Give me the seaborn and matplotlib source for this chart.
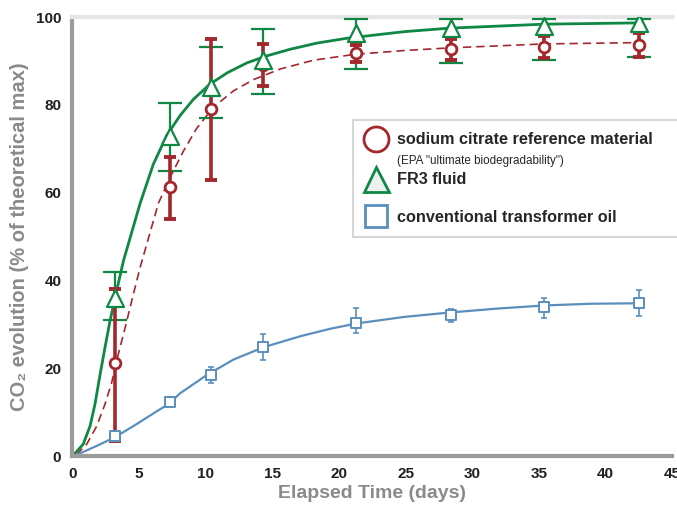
import numpy as np
import pandas as pd
import matplotlib
matplotlib.use('Agg')
import matplotlib.pyplot as plt
from matplotlib.lines import Line2D
import seaborn as sns

# measured points (days, % of theoretical max)
days = [3.2, 7.3, 10.4, 14.3, 21.3, 28.4, 35.4, 42.5]

citrate = [21.2, 61.2, 79.0, 89.0, 91.8, 92.7, 93.1, 93.7]
citrate_lo = [3.4, 54.0, 63.0, 84.3, 89.8, 90.3, 90.6, 90.9]
citrate_hi = [38.0, 68.2, 95.0, 93.9, 93.7, 95.1, 95.8, 96.3]

fr3 = [35.9, 72.9, 84.0, 90.3, 96.4, 97.5, 98.0, 98.6]
fr3_lo = [31.0, 65.0, 77.0, 82.6, 88.3, 89.6, 90.3, 91.0]
fr3_hi = [42.0, 80.4, 93.1, 97.2, 99.5, 99.5, 99.5, 99.5]

oil = [4.6, 12.2, 18.5, 24.8, 30.4, 32.1, 34.0, 34.9]
oil_lo = [4.0, 11.8, 16.7, 21.8, 28.1, 30.5, 31.5, 31.9]
oil_hi = [5.2, 12.6, 20.2, 27.9, 33.8, 33.6, 36.1, 37.9]

# fitted curves
fit_fr3_x = [0, 0.19, 0.81, 1.32, 1.69, 2.07, 2.44, 2.82, 3.32, 3.82, 4.45, 5.08, 6.07, 7.08,
             8.08, 9.08, 10.3, 11.6, 13.1, 14.6, 16.35, 18.35, 20.6, 24.9, 28.3, 35.35, 42.4]
fit_fr3_y = [0, 0.6, 2.7, 6.8, 11.8, 18.5, 24.7, 30.8, 37.7, 44.4, 51.0, 57.6, 66.5, 73.1,
             77.6, 81.3, 84.7, 87.3, 89.6, 91.2, 92.7, 94.1, 95.2, 96.7, 97.5, 98.4, 98.7]

fit_cit_x = [0.3, 1.07, 1.82, 2.44, 2.95, 3.44, 3.95, 4.45, 5.08, 5.7, 6.45, 7.33, 8.33, 9.33,
             10.58, 12.08, 13.6, 15.6, 18.1, 21.1, 24.9, 28.3, 35.35, 42.4]
fit_cit_y = [0.3, 2.7, 6.8, 11.8, 16.8, 23.2, 29.2, 35.4, 43.0, 49.6, 57.6, 63.5, 69.5, 74.7,
             79.5, 83.2, 85.8, 88.2, 90.2, 91.5, 92.4, 93.0, 93.9, 94.2]

fit_oil_x = [0, 0.56, 1.82, 3.2, 4.83, 6.33, 7.2, 8.08, 10.1, 12.1, 14.35, 17.1, 19.35, 21.3,
             24.9, 28.3, 31.9, 35.35, 38.9, 42.4]
fit_oil_y = [0, 0.6, 2.3, 4.3, 7.3, 10.2, 11.8, 14.3, 18.5, 22.0, 24.8, 27.3, 29.0, 30.2,
             31.7, 32.7, 33.6, 34.3, 34.7, 34.8]

RED = '#a3282d'
GREEN = '#0f8844'
BLUE = '#5a8fbd'
GREY = '#9b9b9b'

sns.set_style('white')
plt.rcParams['font.family'] = ['Liberation Sans', 'DejaVu Sans']

fig = plt.figure(figsize=(6.77, 5.05), dpi=100)
ax = fig.add_axes([0.107, 0.097, 0.886, 0.869])

# curves
sns.lineplot(x=fit_fr3_x, y=fit_fr3_y, color=GREEN, lw=2.0, sort=False, estimator=None, ax=ax)
sns.lineplot(x=fit_cit_x, y=fit_cit_y, color=RED, lw=1.2, sort=False, estimator=None,
             dashes=False, ax=ax).lines[-1].set_dashes([5, 3])
sns.lineplot(x=fit_oil_x, y=fit_oil_y, color=BLUE, lw=1.6, sort=False, estimator=None, ax=ax)

# error bars
c, f, o = np.array(citrate), np.array(fr3), np.array(oil)
ax.errorbar(days, fr3, yerr=[f - np.array(fr3_lo), np.array(fr3_hi) - f], fmt='none',
            ecolor=GREEN, elinewidth=1.6, capsize=8.5, capthick=1.6, zorder=3)
ax.errorbar(days, citrate, yerr=[c - np.array(citrate_lo), np.array(citrate_hi) - c], fmt='none',
            ecolor=RED, elinewidth=2.6, capsize=4, capthick=2.8, zorder=4)
ax.errorbar(days, oil, yerr=[o - np.array(oil_lo), np.array(oil_hi) - o], fmt='none',
            ecolor=BLUE, elinewidth=1.2, capsize=2.3, capthick=1.2, zorder=3)

# markers
sns.scatterplot(x=days, y=citrate, marker='o', s=60, facecolor='white', edgecolor=RED,
                linewidth=2.0, zorder=5, ax=ax)
sns.scatterplot(x=days, y=fr3, marker='^', s=150, facecolor='white', edgecolor=GREEN,
                linewidth=1.6, zorder=6, ax=ax)
sns.scatterplot(x=days, y=oil, marker='s', s=60, facecolor='white', edgecolor=BLUE,
                linewidth=1.4, zorder=5, ax=ax)

ax.set_xlim(0, 45)
ax.set_ylim(0, 100)
ax.set_xticks(range(0, 46, 5))
ax.set_yticks(range(0, 101, 20))

for s in ['left', 'bottom']:
    ax.spines[s].set_color(GREY)
    ax.spines[s].set_linewidth(3)
ax.spines['top'].set_color('#e6e6e6')
ax.spines['top'].set_linewidth(3)
ax.spines['right'].set_visible(False)
ax.tick_params(direction='in', length=10, width=2.5, color=GREY, labelsize=11,
               labelcolor='#231f20', pad=8)
for t in ax.get_xticklabels() + ax.get_yticklabels():
    t.set_fontweight('bold')

ax.set_xlabel('Elapsed Time (days)', fontsize=14, fontweight='bold', color='#8a8a8a', labelpad=3)
ax.set_ylabel('CO₂ evolution (% of theoretical max)', fontsize=14.5, fontweight='bold',
              color='#8a8a8a', labelpad=5)

handles = [
    Line2D([], [], ls='none', marker='o', ms=18, mfc='white', mec=RED, mew=2),
    Line2D([], [], ls='none'),
    Line2D([], [], ls='none', marker='^', ms=18, mfc='#eef0f0', mec=GREEN, mew=2),
    Line2D([], [], ls='none'),
    Line2D([], [], ls='none', marker='s', ms=16, mfc='white', mec=BLUE, mew=2),
]
labels = ['sodium citrate reference material', '(EPA "ultimate biodegradability")',
          'FR3 fluid', ' ', 'conventional transformer oil']
leg = ax.legend(handles, labels, loc='upper left', bbox_to_anchor=(0.467, 0.5, 0.6, 0.265),
                mode='expand', frameon=True, fancybox=False, fontsize=11.7, borderaxespad=0,
                handlelength=1.4, handletextpad=0.6, labelspacing=0.32, borderpad=0.75)
leg.get_frame().set_edgecolor('#cccccc')
leg.get_frame().set_linewidth(1.5)
for i, t in enumerate(leg.get_texts()):
    if i == 1:
        t.set_fontsize(8.4)
    elif i == 3:
        t.set_fontsize(3)
    else:
        t.set_fontweight('bold')

fig.savefig('out.png', dpi=100)
